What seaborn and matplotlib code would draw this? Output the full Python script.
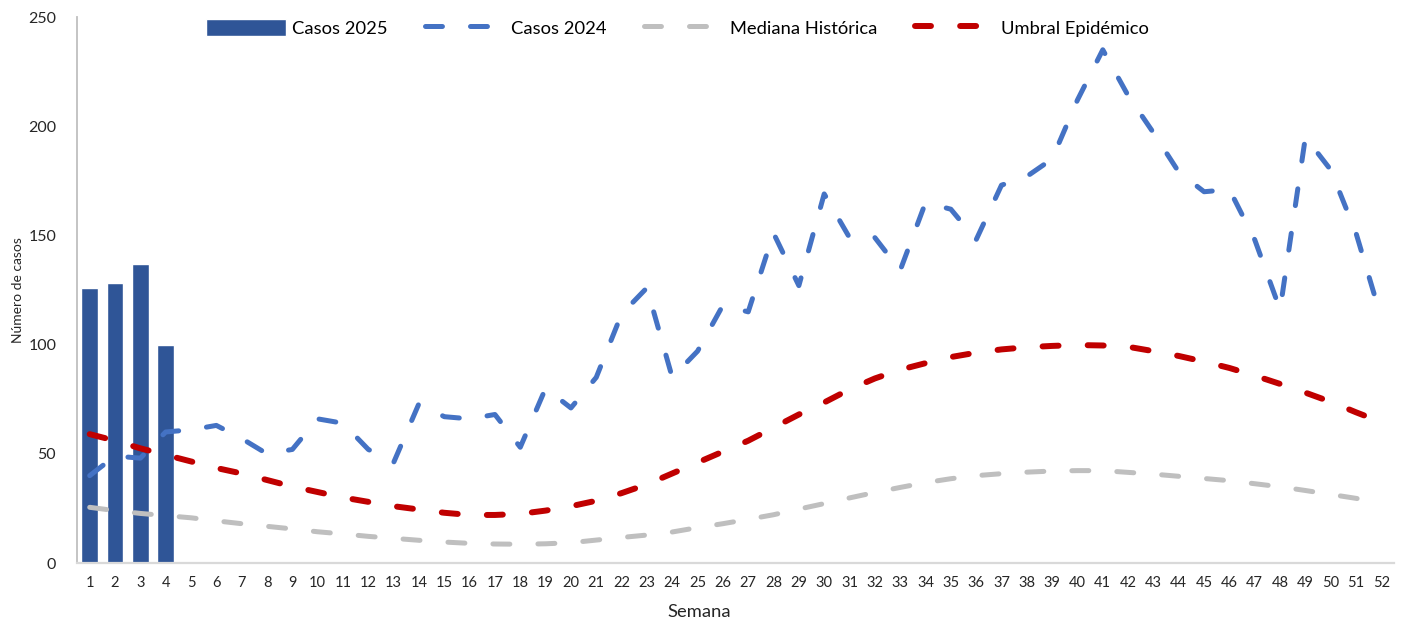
import matplotlib
matplotlib.use("Agg")
import matplotlib.pyplot as plt
import seaborn as sns
import pandas as pd

## data
weeks = list(range(1, 53))

weeks_2025 = [1, 2, 3, 4]
cases_2025 = [126, 128, 137, 100]

cases_2024 = [40, 49, 48, 60, 61, 63, 57, 50, 52, 66,
              64, 52, 46, 73, 67, 66, 68, 53, 80, 71,
              85, 114, 126, 85, 97, 118, 115, 151, 127, 169,
              149, 149, 134, 165, 162, 148, 173, 177, 185, 212,
              235, 214, 197, 179, 170, 171, 148, 116, 195, 180,
              151, 112]

median_hist = [25.5, 24, 22.7, 21.7, 20.7, 19.3, 18, 16.8, 15.6, 14.3,
               13.3, 12.2, 11.3, 10.4, 9.6, 9.0, 8.7, 8.6, 8.8, 9.3,
               10.5, 11.7, 12.8, 14.2, 16.2, 18, 20, 22.1, 24.7, 27.2,
               29.8, 32.3, 34.6, 36.8, 38.6, 40, 40.9, 41.6, 42.1, 42.3,
               42.3, 41.5, 40.7, 39.7, 38.7, 37.7, 36.3, 34.9, 33.2, 31.4,
               29.6, 27.6]

epidemic_threshold = [59, 56, 52.5, 49.5, 46.5, 43.5, 41, 38, 35, 32.5,
                      30, 28, 26, 24.5, 23, 22, 22, 22.5, 24, 26,
                      28.5, 32, 36, 41, 46, 51, 56, 62, 68, 73.5,
                      79.5, 84.5, 88.5, 91.5, 94.3, 96.3, 97.8, 98.8, 99.4, 99.8,
                      99.6, 99, 97, 94.8, 92.2, 89.3, 85.8, 82, 78, 73.8,
                      69, 64.5]

y_ticks = [0, 50, 100, 150, 200, 250]

df_bars = pd.DataFrame({'semana': weeks_2025, 'casos': cases_2025})
df_lines = pd.DataFrame({'semana': weeks,
                         'casos_2024': cases_2024,
                         'mediana': median_hist,
                         'umbral': epidemic_threshold})

## style
sns.set_theme(style="white")
plt.rcParams['font.family'] = ['Lato', 'DejaVu Sans']
plt.rcParams['lines.scale_dashes'] = False
plt.rcParams['text.color'] = 'black'

fig = plt.figure(figsize=(14.06, 6.23), dpi=100)
ax = fig.add_axes([0.0548, 0.0963, 0.9367, 0.8764])

## bars 2025
sns.barplot(data=df_bars, x='semana', y='casos',
            native_scale=True,
            color='#2F5597',
            saturation=1,
            width=0.66,
            label='Casos 2025',
            zorder=1,
            ax=ax)

## dashed lines
line_specs = [
    ('casos_2024', 'Casos 2024', '#4472C4', 3.6, (0, (12.2, 20.2))),
    ('mediana', 'Mediana Histórica', '#BFBFBF', 3.6, (0, (12.2, 20.2))),
    ('umbral', 'Umbral Epidémico', '#C00000', 4.3, (0, (11.5, 21.0))),
]
for col, label, color, lw, ls in line_specs:
    sns.lineplot(data=df_lines, x='semana', y=col,
                 color=color,
                 linewidth=lw,
                 linestyle=ls,
                 dash_capstyle='round',
                 label=label,
                 zorder=3,
                 ax=ax)

## axes
ax.set_xlim(0.5, 52.5)
ax.set_ylim(0, 250)
ax.set_xticks(weeks)
ax.set_xticklabels([str(w) for w in weeks], fontsize=10.5)
ax.set_yticks(y_ticks)
ax.set_yticklabels([str(t) for t in y_ticks], fontsize=11.5)
ax.tick_params(axis='y', length=0, pad=15)
ax.tick_params(axis='x', length=0, pad=9)

for side in ['top', 'right']:
    ax.spines[side].set_visible(False)
ax.spines['left'].set_color('#BFBFBF')
ax.spines['left'].set_linewidth(1.3)
ax.spines['bottom'].set_color('#D9D9D9')
ax.spines['bottom'].set_linewidth(1.6)

ax.set_xlabel('Semana', fontsize=13.2)
ax.set_ylabel('Número de casos', fontsize=10)
ax.xaxis.set_label_coords(0.4723, -0.075)
ax.yaxis.set_label_coords(-0.0405, 0.5)

## legend: bar entry first
handles, labels = ax.get_legend_handles_labels()
bar_idx = labels.index('Casos 2025')
order = [bar_idx] + [i for i in range(len(labels)) if i != bar_idx]
ax.legend([handles[i] for i in order], [labels[i] for i in order],
          loc='center left', bbox_to_anchor=(0.0976, 0.98),
          ncol=4, frameon=False,
          fontsize=13.2,
          handlelength=4.4, handleheight=1.0,
          handletextpad=0.3, columnspacing=2.05,
          borderpad=0, borderaxespad=0)

fig.savefig('out.png', dpi=100)
